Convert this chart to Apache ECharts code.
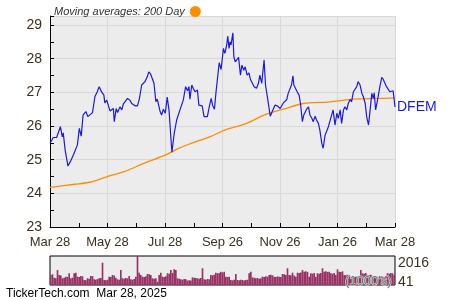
<!DOCTYPE html>
<html><head><meta charset="utf-8">
<script src="https://cdn.jsdelivr.net/npm/echarts@6/dist/echarts.min.js"></script>
<style>html,body{margin:0;padding:0;background:#fff}#c{width:450px;height:300px}</style>
</head><body><div id="c"></div>
<script>
const xTickLabels = ['Mar 28','May 28','Jul 28','Sep 26','Nov 26','Jan 26','Mar 28'];
const priceDays = [0,3.5,7,9,11,13,14,16,19,20.5,22,23.5,25.5,29,31,33,35,38,40,42,45,47.5,50,52,54.5,57,58,60,61.5,63.5,65,67,68,70,71.5,74,76,77.5,79,82,84.5,86.5,90,92.5,94.5,97,100.5,103,104.5,106.5,108,110,112,113.5,116.5,118,120,122,124,126,128,129,130,131.5,134,137.5,139,141,143.5,145.5,147,148,150,151.5,153.5,156,157.5,159.5,161,163,164.5,166.5,168,170.5,172,174,175.5,177,179,181,183.5,185,187,188,189.5,190.5,191.5,193.5,194.5,196,198,199.5,201.5,203,205,206.5,208.5,210.5,212,214,216,218.5,220.5,222,224,226.5,228,230.5,233,235,238,240.5,243.5,245,247,248.5,250.5,252,254,255.5,257,258,260,261.5,263.5,265,267,268.5,271.5,273.5,275,277,278.5,280.5,282,284,285.5,287.5,289,291,292.5,294.5,296,298,299.5,301.5,303.5,305,307,308.5,310.5,312,314,315.5,317.5,319,321,322.5,324.5,326,328,330,331.5,333.5,335,337,338.5,340.5,342,343,344.5,346.5,348,349,351,352.5,354.5,356,358,359.5,361.5,363,365];
const priceVals = [25.49,25.66,25.66,25.63,25.98,25.68,25.8,25.29,24.81,24.89,24.97,24.93,25.19,25.44,25.93,25.7,26.33,26.43,26.28,26.33,26.4,26.87,27.02,27.17,27.02,26.92,26.69,26.77,26.77,26.45,26.42,26.52,26.13,26.52,26.4,26.57,26.48,26.65,26.62,26.82,26.77,26.67,26.6,26.6,26.8,27.22,27.32,27.47,27.61,27.54,27.58,27.27,26.72,26.8,26.43,26.33,26.5,26.38,26.86,26.45,25.6,25.22,25.24,25.8,26.18,26.48,26.52,26.77,27.17,27.05,27.17,26.8,27.22,27.12,27.02,27.07,26.62,26.6,26.6,26.28,26.33,26.28,26.5,26.82,26.62,26.5,26.97,27.02,27.88,27.68,28.31,28.16,28.41,28.67,28.31,28.5,28.41,28.77,28.06,27.91,27.98,28.04,27.51,27.81,27.66,27.76,27.51,27.58,27.39,27.37,27.17,27.12,27.27,27.51,27.27,27.96,27.22,26.77,26.29,26.29,26.62,26.6,26.52,26.5,26.69,26.67,26.79,26.97,27.02,27.22,27.49,27.22,27.27,27.02,26.92,26.67,26.13,26.33,26.5,26.57,26.33,26.23,26.13,26.29,26.18,26.08,25.88,25.49,25.34,25.73,25.83,25.98,26.13,26.33,26.48,26.03,26.38,26.23,26.48,26.08,26.48,26.57,26.48,26.67,26.79,26.72,27.02,27.05,27.17,27.32,27.22,26.97,26.87,26.67,26.28,26.03,26.43,26.97,26.82,26.99,26.48,26.77,26.82,27.17,27.45,27.39,27.37,27.17,27.19,27.02,26.97,27.05,26.57];
const maDays = [0,26,42,60,79,100,123,137,150,169,185,208,227,249,268,296,321,349,365];
const maVals = [24.18,24.27,24.33,24.49,24.65,24.9,25.15,25.35,25.49,25.68,25.88,26.08,26.33,26.52,26.67,26.72,26.8,26.82,26.84];
const volumes = [720,770,540,500,1060,720,680,500,540,610,590,840,500,540,840,880,610,590,650,630,380,360,500,470,650,650,430,400,450,500,520,1560,380,360,400,610,590,720,680,540,430,400,1060,500,470,520,500,650,430,400,450,610,2016,880,720,610,590,630,790,770,720,500,470,500,270,720,880,610,590,630,840,810,1060,860,1110,1060,500,470,430,400,450,430,340,360,340,560,540,520,500,470,520,1180,430,400,450,430,720,700,740,880,840,860,950,900,950,
610,590,610,380,360,400,790,380,360,400,380,340,380,400,840,950,560,540,500,520,470,500,610,590,630,610,720,740,700,610,590,630,610,590,790,770,720,1180,720,700,880,680,610,880,860,900,1060,950,970,930,610,840,810,860,610,840,810,860,1180,950,970,930,950,840,810,860,720,1110,950,930,970,720,700,740,720,610,630,590,610,630,610,1060,840,810,860,720,700,740,610,590,630,610,590,630,610,590,630,840,810,860,840,720];
const volLabels = [41, 2016];
const tickerName = 'DFEM';
const maName = 'Moving averages: 200 Day';

const txt = '#3d3020';
const FF = '"Liberation Sans", Arial, sans-serif';
const chart = echarts.init(document.getElementById('c'), null, {renderer:'canvas'});
const step = 365/6;
chart.setOption({
  animation:false,
  backgroundColor:'#fff',
  legend:{
    data:[{name:maName, icon:'circle'}],
    left:49, top:1, align:'right', itemWidth:11, itemHeight:11, itemGap:5,
    textStyle:{fontStyle:'italic', fontSize:11, color:'#333', fontFamily:FF}
  },
  grid:[
    {left:50, right:55, top:16, bottom:73, show:true, backgroundColor:'#ececec', borderWidth:0},
    {left:50, right:55, top:256, bottom:15, show:true, backgroundColor:'#ececec', borderColor:'#000', borderWidth:1}
  ],
  xAxis:[
    {type:'value', gridIndex:0, min:0, max:365, interval:step,
     axisLine:{show:true, lineStyle:{color:'#000', width:1}},
     axisTick:{show:true, inside:true, length:4, lineStyle:{color:'#000'}},
     minorTick:{show:true, splitNumber:2, length:4, lineStyle:{color:'#000'}},
     splitLine:{show:true, lineStyle:{color:'#d8d8d8', width:1}},
     axisLabel:{color:txt, fontSize:13, fontFamily:FF, margin:9,
       formatter:v=>xTickLabels[Math.round(v/step)]}},
    {type:'category', gridIndex:1, data:volumes.map((_,i)=>i), boundaryGap:true,
     axisLine:{show:false}, axisTick:{show:false}, axisLabel:{show:false}, splitLine:{show:false}}
  ],
  yAxis:[
    {type:'value', gridIndex:0, min:23, max:29.27, interval:1,
     axisLine:{show:true, lineStyle:{color:'#000', width:1}},
     axisTick:{show:true, inside:true, length:4, lineStyle:{color:'#000'}},
     minorTick:{show:true, splitNumber:2, length:4, lineStyle:{color:'#000'}},
     splitLine:{show:true, lineStyle:{color:'#d8d8d8', width:1}},
     axisLabel:{color:txt, fontSize:14, fontFamily:FF, margin:8, showMaxLabel:false,
       formatter:v=>Number.isInteger(v)?String(v):''}},
    {type:'value', gridIndex:1, position:'right', min:volLabels[0], max:volLabels[1],
     axisLine:{show:false}, axisTick:{show:false}, splitLine:{show:false},
     axisLabel:{show:true, customValues:volLabels, color:txt, fontSize:14, fontFamily:FF, margin:3,
       formatter:v=> v===volLabels[1] ? '{hi|'+v+'}' : '{lo|'+v+'}',
       rich:{hi:{padding:[14,0,0,0], color:txt, fontSize:14, fontFamily:FF}, lo:{padding:[0,0,6,0], color:txt, fontSize:14, fontFamily:FF}}}}
  ],
  series:[
    {name:maName, type:'line', xAxisIndex:0, yAxisIndex:0, data:maDays.map((d,i)=>[d,maVals[i]]),
     showSymbol:false, smooth:0.3, lineStyle:{color:'#ff8c00', width:1.3}, itemStyle:{color:'#ff8c00'}, z:3},
    {name:tickerName, type:'line', xAxisIndex:0, yAxisIndex:0, data:priceDays.map((d,i)=>[d,priceVals[i]]),
     showSymbol:false, lineStyle:{color:'#1a1ae6', width:1.2}, itemStyle:{color:'#1a1ae6'}, z:4,
     endLabel:{show:true, formatter:tickerName, color:'#1a1ae6', fontSize:14, fontFamily:FF, distance:2}},
    {name:'Volume', type:'bar', xAxisIndex:1, yAxisIndex:1, data:volumes, barCategoryGap:'0%',
     itemStyle:{color:'#993366'}, z:2}
  ],
  graphic:[
    {type:'text', right:58, top:274, z:10, style:{text:"(1000's)", fill:'#5a7a6a', font:'13px "Liberation Sans"', stroke:'#e8e8e8', lineWidth:1}},
    {type:'text', left:6, top:288, style:{text:'TickerTech.com  Mar 28, 2025', fill:'#000', font:'12px "Liberation Sans"'}}
  ]
});
</script></body></html>
